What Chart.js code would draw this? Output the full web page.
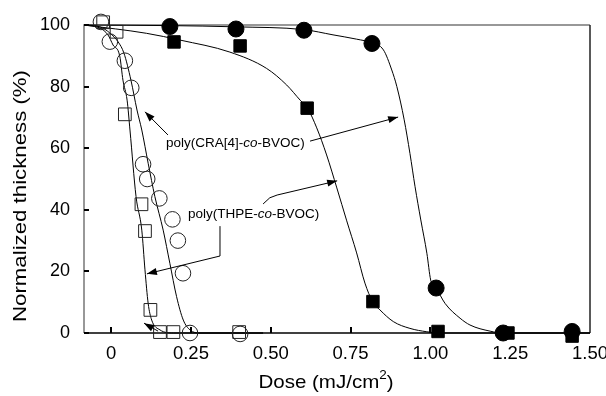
<!DOCTYPE html>
<html>
<head>
<meta charset="utf-8">
<script src="https://cdn.jsdelivr.net/npm/chart.js@4.4.0/dist/chart.umd.min.js"></script>
<style>
html, body { margin: 0; padding: 0; background: #fff; }
</style>
</head>
<body>
<canvas id="myChart" width="606" height="396"></canvas>
<script>
// measured points (dose in mJ/cm2, thickness in %)
var doseFilledCircle = [0.184, 0.391, 0.604, 0.817, 1.018, 1.228, 1.444];
var thickFilledCircle = [99.5, 98.7, 98.3, 94.0, 14.6, 0.0, 0.5];

var doseFilledSquare = [0.197, 0.404, 0.614, 0.820, 1.024, 1.243, 1.444];
var thickFilledSquare = [94.5, 93.2, 73.0, 10.2, 0.5, 0.0, -1.0];

var doseOpenCircle = [-0.032, -0.004, 0.043, 0.063, 0.100, 0.113, 0.151, 0.192, 0.209, 0.225, 0.247, 0.404];
var thickOpenCircle = [101.0, 94.6, 88.4, 79.6, 54.8, 50.0, 43.7, 36.9, 30.0, 19.4, 0.0, -0.3];

var doseOpenSquare = [-0.025, 0.017, 0.043, 0.095, 0.106, 0.123, 0.153, 0.195, 0.401];
var thickOpenSquare = [100.9, 97.8, 71.0, 41.8, 33.1, 7.5, 0.3, 0.3, 0.3];

// fitted curves
var doseFitA = [-0.085, 0.184, 0.391, 0.604, 0.695, 0.769, 0.817, 0.853, 0.879, 0.895, 0.918, 0.936, 0.952, 0.970, 0.989, 1.001, 1.018, 1.046, 1.093, 1.124, 1.187, 1.228, 1.5];
var thickFitA = [100, 99.8, 99.4, 98.5, 96.8, 95.4, 94.2, 91.9, 85.4, 80.0, 69.2, 58.3, 47.5, 36.7, 25.9, 17.2, 14.6, 9.6, 4.8, 2.6, 0.6, 0, 0];

var doseFitB = [-0.085, 0.111, 0.216, 0.372, 0.487, 0.550, 0.592, 0.615, 0.644, 0.675, 0.707, 0.738, 0.769, 0.795, 0.819, 0.842, 0.884, 0.936, 0.989, 1.030, 1.5];
var thickFitB = [100, 97.3, 95.1, 91.2, 85.9, 80.5, 75.6, 73.0, 66.6, 57.8, 47.1, 36.4, 26.0, 16.2, 10.2, 7.5, 3.7, 1.5, 0.4, 0, 0];

var doseFitC = [-0.085, -0.035, -0.004, 0.022, 0.040, 0.062, 0.081, 0.096, 0.116, 0.137, 0.163, 0.184, 0.205, 0.226, 0.247, 0.278, 0.476];
var thickFitC = [100, 99.4, 97.4, 94.5, 90.9, 82.1, 72.4, 65.9, 55.1, 44.3, 33.4, 22.6, 11.8, 4.2, 1.0, 0, 0];

var doseFitD = [-0.085, -0.035, -0.010, 0.006, 0.027, 0.037, 0.050, 0.059, 0.078, 0.096, 0.106, 0.116, 0.127, 0.153, 0.195, 0.476];
var thickFitD = [100, 99.0, 96.8, 93.5, 89.9, 82.1, 75.6, 65.9, 44.3, 33.4, 20.5, 9.6, 4.2, 1.0, 0, 0];

var xTicks = [0, 0.25, 0.5, 0.75, 1.0, 1.25, 1.5];
var xTickLabels = ['0', '0.25', '0.50', '0.75', '1.00', '1.25', '1.50'];
var yTicks = [0, 20, 40, 60, 80, 100];
var yTickLabels = ['0', '20', '40', '60', '80', '100'];

// labels with arrows, in data units
var labels = [
    { x: 0.172, y: 61.7, parts: [['poly(CRA[4]-', false], ['co', true], ['-BVOC)', false]] },
    { x: 0.241, y: 38.6, parts: [['poly(THPE-', false], ['co', true], ['-BVOC)', false]] }
];
var arrows = [
    [[0.178, 64.3], [0.106, 71.8]],
    [[0.623, 62.3], [0.899, 70.1]],
    [[0.476, 41.9], [0.497, 43.9], [0.520, 44.8], [0.708, 49.4]],
    [[0.341, 34.7], [0.341, 25.0], [0.112, 19.2]],
    [[0.147, 0.6], [0.103, 3.2]]
];

var FONT = '"Liberation Sans", Arial, sans-serif';

function pts(xs, ys) {
    return xs.map(function (x, i) { return { x: x, y: ys[i] }; });
}
function fitLine(xs, ys) {
    return { data: pts(xs, ys), showLine: true, pointRadius: 0, borderColor: '#000', borderWidth: 1,
        cubicInterpolationMode: 'monotone', order: 10, clip: false };
}

var framePlugin = {
    id: 'frame',
    beforeDatasetsDraw: function (chart) {
        var ctx = chart.ctx, a = chart.chartArea, xs = chart.scales.x, ys = chart.scales.y;
        ctx.save();
        ctx.lineWidth = 1.5;
        ctx.strokeStyle = '#777';
        ctx.beginPath();
        ctx.moveTo(a.left, a.bottom); ctx.lineTo(a.left, a.top); ctx.lineTo(a.right, a.top);
        ctx.stroke();
        ctx.strokeStyle = '#222';
        ctx.beginPath();
        ctx.moveTo(a.right, a.top); ctx.lineTo(a.right, a.bottom);
        ctx.stroke();
        ctx.strokeStyle = '#000';
        ctx.beginPath();
        ctx.moveTo(a.left, a.bottom); ctx.lineTo(a.right, a.bottom);
        ctx.stroke();
        // inward ticks
        ctx.lineWidth = 2;
        ctx.beginPath();
        xTicks.forEach(function (v) {
            var px = Math.round(xs.getPixelForValue(v));
            if (px >= a.right - 1) return;
            ctx.moveTo(px, a.bottom); ctx.lineTo(px, a.bottom - 6);
        });
        yTicks.forEach(function (v) {
            var py = Math.round(ys.getPixelForValue(v));
            ctx.moveTo(a.left, py); ctx.lineTo(a.left + 5, py);
        });
        ctx.stroke();
        ctx.restore();
    },
    afterDatasetsDraw: function (chart) {
        var ctx = chart.ctx, xs = chart.scales.x, ys = chart.scales.y;
        ctx.save();
        ctx.fillStyle = '#000';
        ctx.textBaseline = 'middle';
        labels.forEach(function (l) {
            var px = xs.getPixelForValue(l.x), py = ys.getPixelForValue(l.y);
            l.parts.forEach(function (p) {
                ctx.font = (p[1] ? 'italic ' : '') + '13.5px ' + FONT;
                ctx.fillText(p[0], px, py);
                px += ctx.measureText(p[0]).width;
            });
        });
        ctx.strokeStyle = '#000';
        ctx.lineWidth = 1;
        arrows.forEach(function (arr) {
            var p = arr.map(function (q) { return [xs.getPixelForValue(q[0]), ys.getPixelForValue(q[1])]; });
            ctx.beginPath();
            ctx.moveTo(p[0][0], p[0][1]);
            for (var i = 1; i < p.length; i++) ctx.lineTo(p[i][0], p[i][1]);
            ctx.stroke();
            var e = p[p.length - 1], s = p[p.length - 2];
            var ang = Math.atan2(e[1] - s[1], e[0] - s[0]);
            ctx.beginPath();
            ctx.moveTo(e[0], e[1]);
            ctx.lineTo(e[0] - 10 * Math.cos(ang) + 3.5 * Math.sin(ang), e[1] - 10 * Math.sin(ang) - 3.5 * Math.cos(ang));
            ctx.lineTo(e[0] - 10 * Math.cos(ang) - 3.5 * Math.sin(ang), e[1] - 10 * Math.sin(ang) + 3.5 * Math.cos(ang));
            ctx.closePath();
            ctx.fill();
        });

        // axis titles (the original lettering is a little wide, hence the stretch)
        ctx.textBaseline = 'middle';
        ctx.textAlign = 'center';
        ctx.font = '19px ' + FONT;
        ctx.save();
        ctx.translate(21, 196);
        ctx.rotate(-Math.PI / 2);
        ctx.scale(1.17, 1);
        ctx.fillText('Normalized thickness (%)', 0, 0);
        ctx.restore();

        ctx.save();
        ctx.translate(326, 383);
        ctx.scale(1.08, 1);
        ctx.textAlign = 'left';
        var t1 = 'Dose (mJ/cm', t2 = '2', t3 = ')';
        ctx.font = '19px ' + FONT;
        var w1 = ctx.measureText(t1).width, w3 = ctx.measureText(t3).width;
        ctx.font = '12.5px ' + FONT;
        var w2 = ctx.measureText(t2).width;
        var x0 = -(w1 + w2 + w3) / 2;
        ctx.font = '19px ' + FONT;
        ctx.fillText(t1, x0, 0);
        ctx.font = '12.5px ' + FONT;
        ctx.fillText(t2, x0 + w1, -7);
        ctx.font = '19px ' + FONT;
        ctx.fillText(t3, x0 + w1 + w2, 0);
        ctx.restore();
        ctx.restore();
    }
};

var ctx = document.getElementById('myChart').getContext('2d');
var chart = new Chart(ctx, {
    type: 'scatter',
    data: {
        datasets: [
            { data: pts(doseFilledCircle, thickFilledCircle), pointStyle: 'circle', pointRadius: 8,
              backgroundColor: '#000', borderColor: '#000', borderWidth: 1, order: 1, clip: false },
            { data: pts(doseFilledSquare, thickFilledSquare), pointStyle: 'rect', pointRadius: 8.8,
              backgroundColor: '#000', borderColor: '#000', borderWidth: 1, order: 2, clip: false },
            { data: pts(doseOpenCircle, thickOpenCircle), pointStyle: 'circle', pointRadius: 7.8,
              backgroundColor: 'rgba(0,0,0,0)', borderColor: '#222', borderWidth: 1, order: 3, clip: false },
            { data: pts(doseOpenSquare, thickOpenSquare), pointStyle: 'rect', pointRadius: 9,
              backgroundColor: 'rgba(0,0,0,0)', borderColor: '#222', borderWidth: 1, order: 4, clip: false },
            fitLine(doseFitA, thickFitA),
            fitLine(doseFitB, thickFitB),
            fitLine(doseFitC, thickFitC),
            fitLine(doseFitD, thickFitD)
        ]
    },
    options: {
        responsive: false,
        animation: false,
        layout: { padding: { left: 0, right: 16, top: 25, bottom: 0 } },
        plugins: { legend: { display: false }, tooltip: { enabled: false } },
        scales: {
            x: {
                type: 'linear', min: -0.085, max: 1.5,
                afterBuildTicks: function (s) { s.ticks = xTicks.map(function (v) { return { value: v }; }); },
                afterFit: function (s) { s.height = 63; s.paddingLeft = 0; s.paddingRight = 0; },
                grid: { display: false, drawTicks: false },
                border: { display: false },
                ticks: { padding: 10, maxRotation: 0, autoSkip: false, color: '#000',
                         font: { family: FONT, size: 18.5 },
                         callback: function (v, i) { return xTickLabels[i]; } }
            },
            y: {
                type: 'linear', min: 0, max: 100,
                afterBuildTicks: function (s) { s.ticks = yTicks.map(function (v) { return { value: v }; }); },
                afterFit: function (s) { s.width = 84; s.paddingTop = 0; s.paddingBottom = 0; },
                grid: { display: false, drawTicks: false },
                border: { display: false },
                ticks: { padding: 14, color: '#000', font: { family: FONT, size: 18 },
                         callback: function (v, i) { return yTickLabels[i]; } }
            }
        }
    },
    plugins: [framePlugin]
});
</script>
</body>
</html>
